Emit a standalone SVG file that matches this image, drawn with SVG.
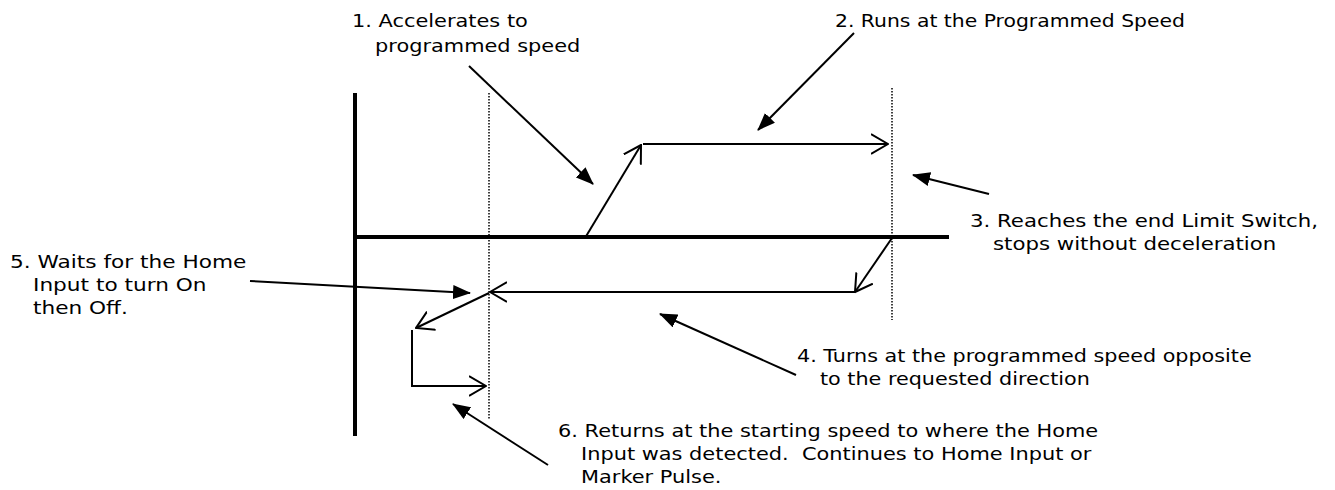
<svg xmlns="http://www.w3.org/2000/svg" width="1335" height="490" viewBox="0 0 1335 490">
<style>
.lbl{font-family:"DejaVu Sans","Liberation Sans",sans-serif;font-size:18.5px;fill:#000;white-space:pre}
.axis{stroke:#000;stroke-width:4;fill:none}
.dot{stroke:#000;stroke-width:1.5;stroke-dasharray:1.5 1.5;fill:none}
.mov{stroke:#000;stroke-width:2;fill:none;marker-end:url(#open)}
.call{stroke:#000;stroke-width:2;fill:none;marker-end:url(#solid)}
</style>
<defs>
<marker id="open" viewBox="0 0 18 22" refX="17" refY="11" markerWidth="18" markerHeight="22" markerUnits="userSpaceOnUse" orient="auto">
<path d="M0,1 L17,11 L0,21" fill="none" stroke="#000" stroke-width="2"/>
</marker>
<marker id="solid" viewBox="0 0 18 14" refX="17" refY="7" markerWidth="18" markerHeight="14" markerUnits="userSpaceOnUse" orient="auto">
<path d="M0,0 L18,7 L0,14 z" fill="#000"/>
</marker>
</defs>
<g id="axes">
<line class="axis" x1="355" y1="93" x2="355" y2="436"/>
<line class="axis" x1="353" y1="237" x2="949" y2="237"/>
<line class="dot" x1="489" y1="93" x2="489" y2="420"/>
<line class="dot" x1="892" y1="88" x2="892" y2="320"/>
</g>
<g id="connectors">
<line class="mov" x1="585" y1="238" x2="641" y2="145"/>
<line class="mov" x1="643" y1="144" x2="888" y2="144"/>
<line class="mov" x1="892" y1="238" x2="855" y2="292"/>
<line class="mov" x1="855" y1="292" x2="490" y2="292"/>
<line class="mov" x1="489" y1="293" x2="416" y2="328"/>
<polyline class="mov" points="412,330 412,386 486,386"/>
<line class="call" x1="469" y1="66" x2="593" y2="184"/>
<line class="call" x1="854" y1="33" x2="758" y2="130"/>
<line class="call" x1="989" y1="194" x2="913" y2="175"/>
<line class="call" x1="796" y1="375" x2="660" y2="314"/>
<line class="call" x1="250" y1="281" x2="470" y2="293"/>
<line class="call" x1="548" y1="465" x2="453" y2="404"/>
</g>
<g id="label1">
<text class="lbl" transform="translate(352,27) scale(1.13,1)">1. Accelerates to</text>
<text class="lbl" transform="translate(375,52) scale(1.13,1)">programmed speed</text>
</g>
<g id="label2">
<text class="lbl" transform="translate(835,27) scale(1.1,1)">2. Runs at the Programmed Speed</text>
</g>
<g id="label3">
<text class="lbl" transform="translate(970,227) scale(1.15,1)">3. Reaches the end Limit Switch,</text>
<text class="lbl" transform="translate(993,250) scale(1.15,1)">stops without deceleration</text>
</g>
<g id="label4">
<text class="lbl" transform="translate(797,362) scale(1.12,1)">4. Turns at the programmed speed opposite</text>
<text class="lbl" transform="translate(820,385) scale(1.12,1)">to the requested direction</text>
</g>
<g id="label5">
<text class="lbl" transform="translate(10,268) scale(1.17,1)">5. Waits for the Home</text>
<text class="lbl" transform="translate(33,291) scale(1.17,1)">Input to turn On</text>
<text class="lbl" transform="translate(33,314) scale(1.17,1)">then Off.</text>
</g>
<g id="label6">
<text class="lbl" transform="translate(558,437) scale(1.13,1)">6. Returns at the starting speed to where the Home</text>
<text class="lbl" xml:space="preserve" transform="translate(581,460) scale(1.13,1)">Input was detected.  Continues to Home Input or</text>
<text class="lbl" transform="translate(581,483) scale(1.13,1)">Marker Pulse.</text>
</g>
</svg>
